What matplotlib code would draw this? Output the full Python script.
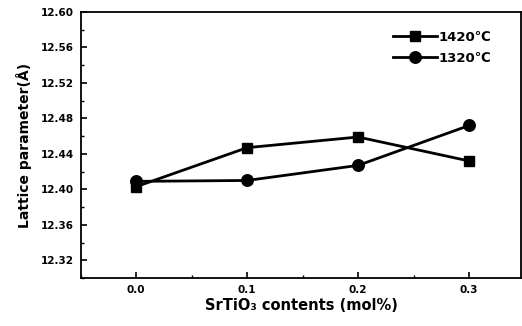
import matplotlib
matplotlib.use("Agg")
import matplotlib.pyplot as plt
from matplotlib.ticker import MultipleLocator, FixedLocator

x = [0.0, 0.1, 0.2, 0.3]
s1420 = [12.403, 12.447, 12.459, 12.432]
s1320 = [12.409, 12.410, 12.427, 12.472]
labels = ["1420\u2103", "1320\u2103"]
yticks = [12.32, 12.36, 12.40, 12.44, 12.48, 12.52, 12.56, 12.60]
xticks = [0.0, 0.1, 0.2, 0.3]

plt.rcParams['font.family'] = ['DejaVu Sans']
plt.rcParams['font.weight'] = 'bold'

fig = plt.figure(figsize=(5.22, 3.26), dpi=100)
ax = fig.add_axes([80.7/522, 48/326, 440.5/522, (278-12)/326])

ax.plot(x, s1420, color='black', lw=2.0, marker='s', ms=7.2, label=labels[0])
ax.plot(x, s1320, color='black', lw=2.0, marker='o', ms=8.3, label=labels[1])

ax.set_xlim(-0.05, 0.347)
ax.set_ylim(12.30, 12.60)
ax.xaxis.set_major_locator(FixedLocator(xticks))
ax.xaxis.set_minor_locator(MultipleLocator(0.05))
ax.yaxis.set_major_locator(FixedLocator(yticks))
ax.yaxis.set_minor_locator(MultipleLocator(0.02))
ax.set_xticklabels([f"{v:.1f}" for v in xticks], fontsize=7.5, fontweight='bold')
ax.set_yticklabels([f"{v:.2f}" for v in yticks], fontsize=7.5, fontweight='bold')
ax.tick_params(which='major', direction='in', length=4, width=1.2, pad=5)
ax.tick_params(which='minor', direction='in', length=2.5, width=1.0)
for sp in ax.spines.values():
    sp.set_linewidth(1.3)

ax.set_xlabel("SrTiO\u2083 contents (mol%)", fontsize=10.5, fontweight='bold', labelpad=2)
ax.set_ylabel("Lattice parameter(\u00c5)", fontsize=10, fontweight='bold', labelpad=6)

leg = ax.legend(loc='upper left', bbox_to_anchor=(0.709, 0.93), frameon=False,
                prop={'weight': 'bold', 'size': 9.5}, handlelength=3.3,
                handletextpad=0.15, labelspacing=0.6, borderaxespad=0.0,
                borderpad=0.0)

fig.savefig("out.png", dpi=100)
